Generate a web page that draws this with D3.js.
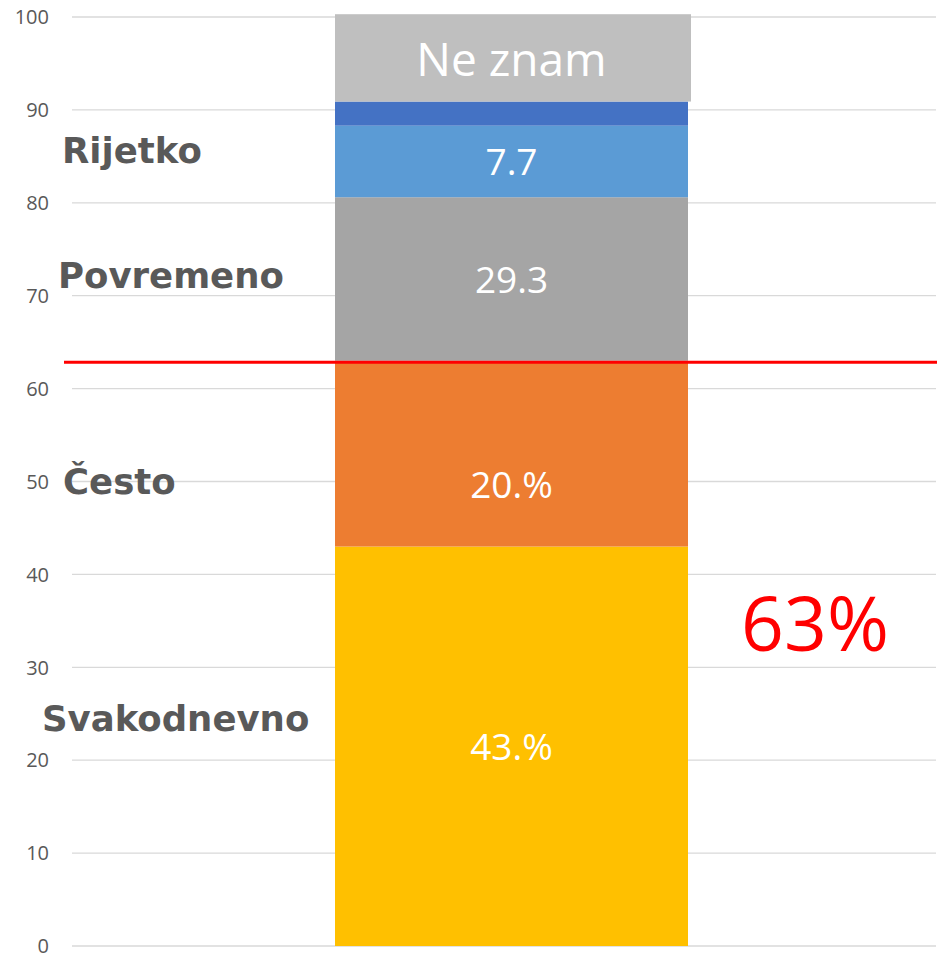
<!DOCTYPE html>
<html>
<head>
<meta charset="utf-8">
<script src="https://cdn.jsdelivr.net/npm/d3@7"></script>
<style>
  body { margin: 0; background: #fff; }
</style>
</head>
<body>
<script>
// stacked segments, bottom to top
const segments = ["Svakodnevno", "Često", "Povremeno", "Rijetko", "Nikad", "Ne znam"];
const values = [43, 20, 17.6, 7.7, 2.6, 9.4];
const labels = ["43.%", "20.%", "29.3", "7.7", "", "Ne znam"];
const colors = ["#FFC000", "#ED7D31", "#A5A5A5", "#5B9BD5", "#4472C4", "#BFBFBF"];

// side category labels and the value where they sit
const sideLabels = ["Svakodnevno", "Često", "Povremeno", "Rijetko"];
const sideAt = [24.5, 50, 72.2, 85.7];

const threshold = 63;
const yTicks = [0, 10, 20, 30, 40, 50, 60, 70, 80, 90, 100];

let width = 945,
  height = 953

const svg = d3.select("body").append("svg")
  .attr("width", width)
  .attr("height", height);

const y = d3.scaleLinear().domain([0, 100]).range([946, 17]);

// gridlines
svg.append("g")
  .selectAll("line")
  .data(yTicks)
  .join("line")
  .attr("x1", 72).attr("x2", 936)
  .attr("y1", d => y(d)).attr("y2", d => y(d))
  .attr("stroke", "#D9D9D9")
  .attr("stroke-width", 1.3);

// tick labels
svg.append("g")
  .selectAll("text")
  .data(yTicks)
  .join("text")
  .attr("x", 49)
  .attr("y", d => y(d))
  .attr("dy", "0.36em")
  .attr("text-anchor", "end")
  .attr("font-family", "'Open Sans', sans-serif")
  .attr("font-size", 20)
  .attr("fill", "#595959")
  .text(d => d);

// stacked segments
let stack = d3.cumsum(values);
let rows = segments.map((s, i) => ({
  name: s, v0: stack[i] - values[i], v1: stack[i], label: labels[i], color: colors[i]
}));

let bx = 335, bw = 353;

svg.append("g")
  .selectAll("rect")
  .data(rows)
  .join("rect")
  .attr("x", bx)
  .attr("width", d => d.name == "Ne znam" ? bw + 3 : bw)
  .attr("y", d => y(d.v1))
  .attr("height", d => y(d.v0) - y(d.v1))
  .attr("fill", d => d.color);

// segment labels
svg.append("g")
  .selectAll("text")
  .data(rows.filter(d => d.label))
  .join("text")
  .attr("x", bx + bw / 2)
  .attr("y", d => y((d.v0 + d.v1) / 2) + (d.name == "Često" ? 31 : d.name == "Ne znam" ? 2 : 1))
  .attr("dy", "0.35em")
  .attr("text-anchor", "middle")
  .attr("font-family", "'Open Sans', sans-serif")
  .attr("font-size", d => d.name == "Ne znam" ? 46 : 37)
  .attr("fill", "#fff")
  .text(d => d.label);

// side labels
svg.append("g")
  .selectAll("text")
  .data(sideLabels)
  .join("text")
  .attr("x", (d, i) => [42, 63, 58, 62][i])
  .attr("y", (d, i) => y(sideAt[i]))
  .attr("dy", "0.36em")
  .attr("font-family", "'DejaVu Sans', sans-serif")
  .attr("font-weight", "bold")
  .attr("font-size", 35.5)
  .attr("fill", "#595959")
  .text(d => d);

// threshold line
svg.append("line")
  .attr("x1", 64).attr("x2", 937)
  .attr("y1", y(threshold) + 1.5).attr("y2", y(threshold) + 1.5)
  .attr("stroke", "#FF0000")
  .attr("stroke-width", 3);

svg.append("text")
  .attr("x", 815)
  .attr("y", y(34.6))
  .attr("dy", "0.35em")
  .attr("text-anchor", "middle")
  .attr("font-family", "'Open Sans', sans-serif")
  .attr("font-size", 75)
  .attr("fill", "#FF0000")
  .text(threshold + "%");
</script>
</body>
</html>
